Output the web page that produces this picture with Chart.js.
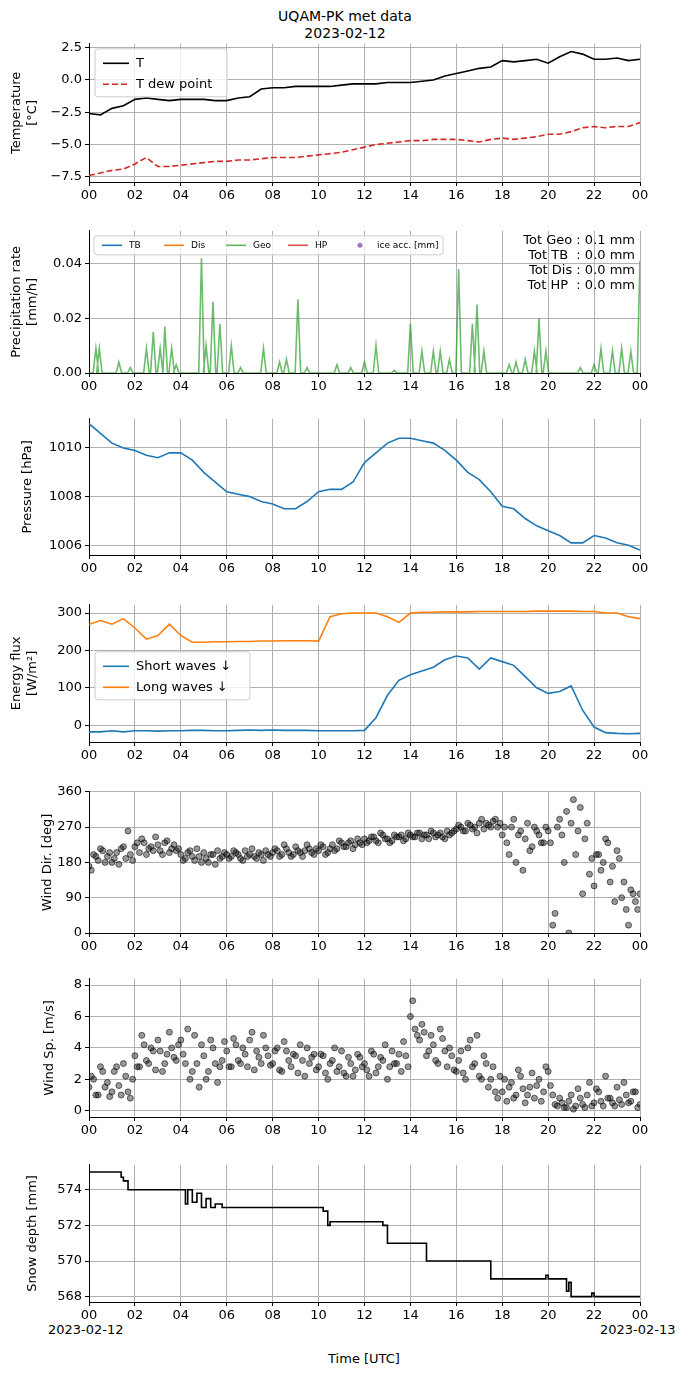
<!DOCTYPE html>
<html><head><meta charset="utf-8">
<script src="https://cdn.jsdelivr.net/npm/chart.js@4.4.0/dist/chart.umd.min.js"></script>
<style>
body{margin:0;background:#fff;font-family:"DejaVu Sans",sans-serif;}
#wrap{position:relative;width:690px;height:1377px;}
canvas{position:absolute;left:0;}
.t{position:absolute;font-size:14px;color:#000;white-space:nowrap;}
</style></head><body><div id="wrap">
<div class="t" style="left:0;width:690px;text-align:center;top:8px;line-height:17px">UQAM-PK met data<br>2023-02-12</div>
<div class="t" style="left:48px;top:1322px;font-size:13px">2023-02-12</div>
<div class="t" style="left:600px;top:1322px;font-size:13px">2023-02-13</div>
<div class="t" style="left:0;width:728px;text-align:center;top:1351px;font-size:13px">Time [UTC]</div>
</div>
<script>
// half-hourly series, 00 -> 24 UTC
const hours = [0,0.5,1,1.5,2,2.5,3,3.5,4,4.5,5,5.5,6,6.5,7,7.5,8,8.5,9,9.5,10,10.5,11,11.5,12,12.5,13,13.5,14,14.5,15,15.5,16,16.5,17,17.5,18,18.5,19,19.5,20,20.5,21,21.5,22,22.5,23,23.5,24];
const tempAir = [-2.6,-2.7,-2.2,-2.0,-1.5,-1.4,-1.5,-1.6,-1.5,-1.5,-1.5,-1.6,-1.6,-1.4,-1.3,-0.7,-0.6,-0.6,-0.5,-0.5,-0.5,-0.5,-0.4,-0.3,-0.3,-0.3,-0.2,-0.2,-0.2,-0.1,0.0,0.3,0.5,0.7,0.9,1.0,1.5,1.4,1.5,1.6,1.3,1.8,2.2,2.0,1.6,1.6,1.7,1.5,1.6];
const tempDew = [-7.4,-7.2,-7.0,-6.9,-6.5,-6.0,-6.7,-6.7,-6.6,-6.5,-6.4,-6.3,-6.3,-6.2,-6.2,-6.1,-6.0,-6.0,-6.0,-5.9,-5.8,-5.7,-5.6,-5.4,-5.2,-5.0,-4.9,-4.8,-4.7,-4.7,-4.6,-4.6,-4.6,-4.7,-4.8,-4.6,-4.5,-4.6,-4.5,-4.4,-4.2,-4.2,-4.0,-3.7,-3.6,-3.7,-3.6,-3.6,-3.3];
const pressure = [1011.0,1010.6,1010.2,1010.0,1009.9,1009.7,1009.6,1009.8,1009.8,1009.5,1009.0,1008.6,1008.2,1008.1,1008.0,1007.8,1007.7,1007.5,1007.5,1007.8,1008.2,1008.3,1008.3,1008.6,1009.4,1009.8,1010.2,1010.4,1010.4,1010.3,1010.2,1009.9,1009.5,1009.0,1008.7,1008.2,1007.6,1007.5,1007.1,1006.8,1006.6,1006.4,1006.1,1006.1,1006.4,1006.3,1006.1,1006.0,1005.8];
const shortWave = [-18,-18,-15,-18,-15,-15,-16,-15,-15,-14,-14,-15,-15,-14,-13,-14,-13,-14,-14,-14,-15,-15,-15,-15,-14,20,80,120,135,145,155,175,185,180,150,180,170,160,130,100,85,90,105,40,-5,-20,-22,-23,-22];
const longWave = [270,280,270,285,260,230,240,270,240,222,222,223,223,224,224,225,225,226,226,226,225,290,298,300,300,300,290,275,300,302,302,303,303,303,304,304,304,304,304,305,305,305,305,304,304,300,300,290,285];
// snow depth steps (value holds until next time)
const snowT = [0,1.4,1.5,1.7,4.1,4.2,4.3,4.5,4.7,4.9,5.1,5.3,5.5,5.8,10.1,10.2,10.4,10.5,12.8,13.0,14.5,14.7,17.3,17.5,19.8,19.9,20.0,20.6,20.8,20.9,21.0,21.8,21.9,22.0,24];
const snowD = [575,574.7,574.5,574,574,573.2,574,573.3,573.8,573,573.5,573,573.2,573,573,572.8,572,572.2,572,571,571,570,570,569,569,569.2,569,569,568.3,568.8,568,568,568.2,568,568];
// geonor precip spikes
const geoT = [0.3,0.45,1.3,1.8,2.5,2.8,3.1,3.3,3.6,3.8,4.9,5.1,5.4,5.7,6.2,6.6,7.6,8.3,8.6,9.1,9.5,10.8,11.4,12.0,12.5,13.3,14.0,14.5,15.0,15.3,15.7,16.1,16.7,16.9,17.2,18.3,18.6,19.0,19.4,19.6,19.9,21.4,22.0,22.3,22.8,23.2,23.6,24.0];
const geoV = [0.009,0.009,0.004,0.002,0.009,0.015,0.009,0.017,0.009,0.003,0.042,0.010,0.026,0.018,0.010,0.002,0.009,0.004,0.005,0.027,0.002,0.003,0.002,0.004,0.010,0.001,0.018,0.008,0.008,0.008,0.005,0.038,0.018,0.025,0.008,0.003,0.004,0.005,0.008,0.020,0.008,0.002,0.003,0.009,0.008,0.009,0.008,0.041];
// wind, every 0.2 h (a) and offset 0.1 h (b)
const windDirA = [170,200,185,210,195,180,205,215,190,200, 220,205,230,215,210,225,200,235,215,210, 200,190,210,185,195,205,180,200,210,195, 200,195,205,190,210,200,195,205,185,200, 205,210,200,215,195,220,205,210,215,200, 210,220,205,225,215,230,220,235,225,230, 240,235,245,230,250,240,235,245,250,240, 250,245,255,250,240,255,250,245,260,255, 265,270,260,275,270,280,265,275,285,270, 250,230,270,180,260,240,210,270,250,230, 260,20,270,250,310,280,200,320,240,150, 120,200,180,230,170,210,90,60,110,80,100];
const windDirB = [160,195,215,180,205,190,175,220,260,185, 230,240,200,220,245,210,230,205,225,215, 185,205,195,215,180,190,200,175,190,205, 190,210,200,185,195,215,190,200,210,195, 215,195,225,205,200,210,195,225,205,215, 225,200,215,210,235,220,230,215,240,225, 230,245,235,255,240,230,250,245,235,255, 245,255,240,250,260,245,255,240,250,260, 275,260,280,265,255,290,280,270,290,280, 270,200,290,250,160,280,220,260,230,270, 230,50,290,180,0,340,260,100,280,190, 200,160,240,130,80,190,130,20,100,60];
const windSpA = [1.5,2.0,1.0,2.5,1.8,1.2,2.8,1.0,2.2,0.8, 3.5,2.8,4.2,3.0,3.8,4.5,2.5,3.6,4.0,3.2, 4.5,3.0,2.0,4.8,1.5,3.5,2.5,4.0,1.8,3.2, 3.8,2.8,4.2,3.0,3.6,4.5,2.6,3.4,4.8,3.5, 3.0,4.0,2.5,3.8,2.8,3.5,4.2,2.2,3.0,3.6, 2.8,3.5,2.0,3.2,2.5,3.8,2.2,3.0,2.6,3.4, 3.0,2.2,3.6,2.8,3.2,2.0,3.8,3.0,2.5,3.5, 6.0,5.2,4.5,5.0,3.8,4.2,3.0,4.6,2.8,3.5, 2.5,3.8,2.0,4.5,3.0,2.2,3.5,1.5,2.8,0.8, 1.2,0.6,1.8,1.0,2.2,0.5,1.5,0.8,2.0,1.2, 2.5,1.0,0.3,0.5,0.2,1.0,0.3,0.8,0.2,1.8, 0.5,1.2,0.3,0.8,0.5,1.5,0.4,1.0,0.6,1.2,0.4];
const windSpB = [2.2,1.0,2.8,1.5,0.9,2.5,1.6,3.0,1.2,2.0, 2.8,4.8,3.2,4.0,2.6,3.8,3.0,5.0,3.4,4.2, 3.6,5.2,2.5,3.0,4.2,2.0,4.5,3.0,2.8,4.4, 2.8,4.6,3.2,4.0,2.8,5.0,3.8,3.0,4.0,2.9, 3.8,2.6,4.4,3.2,3.6,2.4,3.2,4.0,3.4,2.6, 3.6,2.4,3.0,4.0,2.8,2.4,3.4,2.2,3.6,2.8, 2.6,3.8,2.4,3.4,4.2,2.8,3.0,3.6,4.4,2.8, 7.0,4.8,5.5,3.5,4.8,3.2,5.2,3.8,4.0,2.6, 3.2,2.4,4.0,2.8,4.8,2.0,3.0,2.0,1.2,2.2, 2.0,1.5,0.8,2.6,1.4,1.0,2.4,1.6,0.6,2.8, 1.6,0.4,0.8,0.2,0.6,0.1,1.4,0.4,1.0,0.3, 1.4,0.6,2.2,0.8,0.3,0.7,1.8,0.5,1.2,0.2];
const xTicks = ['00','02','04','06','08','10','12','14','16','18','20','22','00'];

const FONT = '"DejaVu Sans", sans-serif';
const pair = (xs, ys) => xs.map((x, i) => ({x: x, y: ys[i]}));
const every = (vals, start) => vals.map((v, i) => ({x: start + i * 0.2, y: v}));
function spikes(ts, vs) {
  const out = [{x: 0, y: 0}];
  ts.forEach((t, i) => { out.push({x: t - 0.12, y: 0}, {x: t, y: vs[i]}, {x: t + 0.12, y: 0}); });
  return out;
}
const fmt = v => (v < 0 ? '\u2212' : '') + Math.abs(v);

// matplotlib-like boxed legend and free text
const boxPlugin = {
  id: 'boxes',
  afterDatasetsDraw(chart, args, o) {
    const c = chart.ctx, a = chart.chartArea;
    if (o.legend) {
      const L = o.legend;
      c.save();
      c.font = L.size + 'px ' + FONT;
      c.fillStyle = 'rgba(255,255,255,0.8)'; c.strokeStyle = '#ccc'; c.lineWidth = 1;
      c.beginPath(); c.roundRect(a.left + L.x, a.top + L.y, L.w, L.h, 3); c.fill(); c.stroke();
      L.items.forEach((it, i) => {
        const x0 = a.left + L.x + 8 + (L.colW ? i * L.colW : 0);
        const y0 = a.top + L.y + (L.colW ? L.h / 2 : L.rowH * (i + 0.5) + 4);
        c.strokeStyle = it.color; c.fillStyle = it.color;
        if (it.point) { c.globalAlpha = 0.9; c.beginPath(); c.arc(x0 + L.len / 2, y0, 2.5, 0, 7); c.fill(); c.globalAlpha = 1; }
        else { c.lineWidth = L.lw; c.setLineDash(it.dash || []); c.beginPath(); c.moveTo(x0, y0); c.lineTo(x0 + L.len, y0); c.stroke(); c.setLineDash([]); }
        c.fillStyle = '#000'; c.textBaseline = 'middle'; c.textAlign = 'left';
        c.fillText(it.label, x0 + L.len + 7, y0);
      });
      c.restore();
    }
    if (o.text) {
      c.save(); c.font = '13px ' + FONT; c.fillStyle = '#000'; c.textAlign = 'right'; c.textBaseline = 'top';
      o.text.forEach((s, i) => c.fillText(s, a.right - 5, a.top + 3 + i * 15));
      c.restore();
    }
  }
};

function panel(plotTop, plotBottom, datasets, y, extra) {
  const cv = document.createElement('canvas');
  const top = plotTop - 10, h = plotBottom - plotTop + 40;
  cv.style.top = top + 'px'; cv.style.width = '690px'; cv.style.height = h + 'px';
  cv.width = 690; cv.height = h;
  document.getElementById('wrap').appendChild(cv);
  new Chart(cv, {
    type: 'scatter',
    data: {datasets: datasets},
    plugins: [boxPlugin],
    options: {
      responsive: false, animation: false, devicePixelRatio: 1,
      layout: {padding: {top: 10, right: 50, left: 0, bottom: 0}},
      plugins: {legend: {display: false}, tooltip: {enabled: false}, boxes: extra || {}},
      scales: {
        x: {
          type: 'linear', min: 0, max: 24,
          afterFit: s => { s.height = 30; },
          afterBuildTicks: s => { s.ticks = xTicks.map((_, i) => ({value: i * 2})); },
          ticks: {callback: (v) => xTicks[v / 2], color: '#000', font: {size: 13, family: FONT}, maxRotation: 0, autoSkip: false, padding: 2},
          grid: {color: '#b0b0b0', tickColor: '#000', tickLength: 4},
          border: {color: '#000'}
        },
        y: {
          min: y.min, max: y.max,
          afterFit: s => { s.width = 89; },
          afterBuildTicks: s => { s.ticks = y.ticks.map(v => ({value: v})); },
          ticks: {callback: y.fmt || fmt, color: '#000', font: {size: 13, family: FONT}, padding: 3},
          grid: {color: '#b0b0b0', tickColor: '#000', tickLength: 4},
          border: {color: '#000'},
          title: {display: true, text: y.title, color: '#000', font: {size: 13, family: FONT}, padding: {top: y.tpad || 9, bottom: 2}}
        }
      }
    }
  });
}
const line = (data, color, extra) => Object.assign({data: data, showLine: true, pointRadius: 0, borderColor: color, borderWidth: 1.6, fill: false}, extra || {});
const dots = (data) => ({data: data, pointRadius: 3, pointBackgroundColor: 'rgba(0,0,0,0.4)', pointBorderColor: 'rgba(0,0,0,0.55)', pointBorderWidth: 1});

panel(43, 182, [
  line(pair(hours, tempAir), '#000'),
  line(pair(hours, tempDew), '#d62728', {borderDash: [6, 3]})
], {min: -7.9, max: 2.8, ticks: [-7.5, -5, -2.5, 0, 2.5], fmt: v => (v < 0 ? '\u2212' : '') + Math.abs(v).toFixed(1), title: ['Temperature', '[°C]']},
{legend: {x: 6, y: 5, w: 132, h: 48, rowH: 21, len: 26, lw: 1.6, size: 13, items: [{label: 'T', color: '#000'}, {label: 'T dew point', color: '#d62728', dash: [6, 3]}]}});

panel(230, 373, [
  line(spikes(geoT, geoV), '#5cb85c', {borderColor: 'rgba(44,160,44,0.7)'})
], {min: 0, max: 0.052, ticks: [0, 0.02, 0.04], fmt: v => v.toFixed(2), title: ['Precipitation rate', '[mm/h]']},
{legend: {x: 5, y: 5, w: 349, h: 19, colW: 62, len: 20, lw: 1.6, size: 9, items: [{label: 'TB', color: '#1f77b4'}, {label: 'Dis', color: '#ff7f0e'}, {label: 'Geo', color: '#5cb85c'}, {label: 'HP', color: '#d9534f'}, {label: 'ice acc. [mm]', color: '#9467bd', point: true}]},
 text: ['Tot Geo : 0.1 mm', 'Tot TB  : 0.0 mm', 'Tot Dis : 0.0 mm', 'Tot HP  : 0.0 mm']});

panel(418, 555, [line(pair(hours, pressure), '#1f77b4')],
{min: 1005.6, max: 1011.2, ticks: [1006, 1008, 1010], title: 'Pressure [hPa]', tpad: 20});

panel(604, 742, [
  line(pair(hours, shortWave), '#1f77b4'),
  line(pair(hours, longWave), '#ff7f0e')
], {min: -45, max: 322, ticks: [0, 100, 200, 300], title: ['Energy flux', '[W/m²]']},
{legend: {x: 6, y: 47, w: 155, h: 48, rowH: 21, len: 26, lw: 1.6, size: 13, items: [{label: 'Short waves \u2193', color: '#1f77b4'}, {label: 'Long waves \u2193', color: '#ff7f0e'}]}});

panel(791, 933, [dots(every(windDirA, 0)), dots(every(windDirB, 0.1))],
{min: 0, max: 360, ticks: [0, 90, 180, 270, 360], title: 'Wind Dir. [deg]', tpad: 40});

panel(978, 1117, [dots(every(windSpA, 0)), dots(every(windSpB, 0.1))],
{min: -0.4, max: 8.4, ticks: [0, 2, 4, 6, 8], title: 'Wind Sp. [m/s]', tpad: 42});

panel(1164, 1302, [line(pair(snowT, snowD), '#000', {stepped: 'before'})],
{min: 567.7, max: 575.4, ticks: [568, 570, 572, 574], title: 'Snow depth [mm]', tpad: 25});
</script></body></html>
